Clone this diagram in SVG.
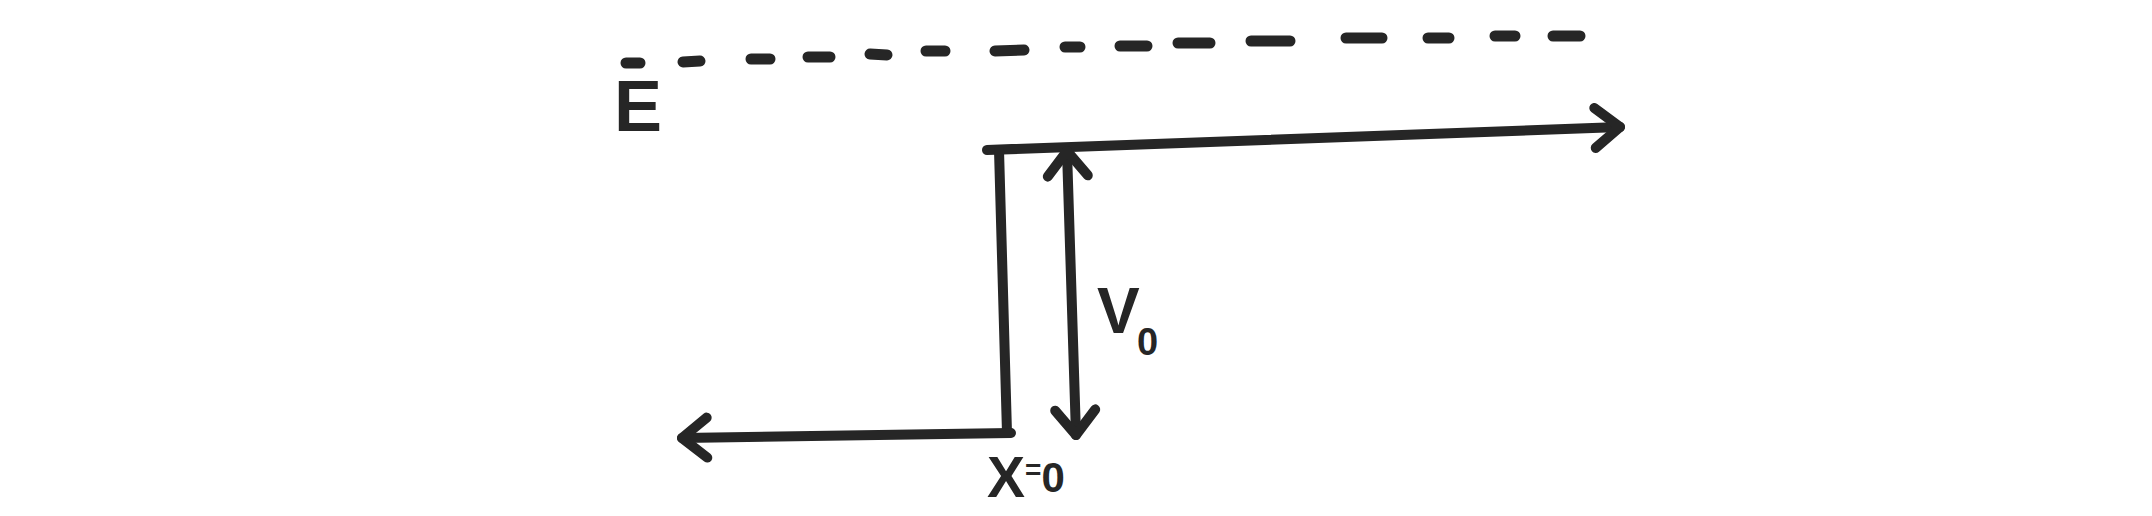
<svg xmlns="http://www.w3.org/2000/svg" width="2152" height="516" viewBox="0 0 2152 516">
<style>
.ln{fill:none;stroke:#262626;stroke-width:10;stroke-linecap:round;stroke-linejoin:round}
.dash{fill:none;stroke:#262626;stroke-width:11;stroke-linecap:round}
.lbl{font-family:"Liberation Sans",Arial,sans-serif;font-weight:bold;fill:#262626}
</style>
<defs>
<marker id="chev" viewBox="-35 -30 40 60" refX="0" refY="0" markerWidth="40" markerHeight="60" markerUnits="userSpaceOnUse" orient="auto-start-reverse" overflow="visible">
<path d="M -25 -20 L 0 0 L -25 20" fill="none" stroke="#262626" stroke-width="10" stroke-linecap="round" stroke-linejoin="round"/>
</marker>
</defs>
<rect width="2152" height="516" fill="#ffffff"/>
<g id="connectors">
<path id="energy-level" class="dash" d="M 626 63 L 640 63 M 683 62 L 700 61 M 751 59 L 770 59 M 808 57 L 830 57 M 870 54 L 887 55 M 926 51 L 945 51 M 995 51 L 1024 50 M 1065 47 L 1080 47 M 1120 46 L 1147 46 M 1178 43 L 1210 43 M 1251 41 L 1290 41 M 1346 38 L 1382 38 M 1428 38 L 1449 38 M 1495 36 L 1515 36 M 1553 36 L 1580 36"/>
<path id="top-level" class="ln" d="M 987 150 L 1620 127" marker-end="url(#chev)"/>
<path id="step-wall" class="ln" d="M 999 150 L 1007 433"/>
<path id="bottom-level" class="ln" d="M 1011 433 L 682 438" marker-end="url(#chev)"/>
<path id="v0-height" class="ln" d="M 1067 151 L 1076 435" marker-start="url(#chev)" marker-end="url(#chev)"/>
</g>
<g id="label-E"><text class="lbl" x="614" y="131" font-size="72">E</text></g>
<g id="label-V0"><text class="lbl" x="1097" y="333" font-size="64">V<tspan x="1137" y="355" font-size="38">0</tspan></text></g>
<g id="label-x0"><text class="lbl" x="987" y="497" font-size="57">X<tspan font-size="28" dy="-18">=</tspan><tspan font-size="42" dy="13">0</tspan></text></g>
</svg>
